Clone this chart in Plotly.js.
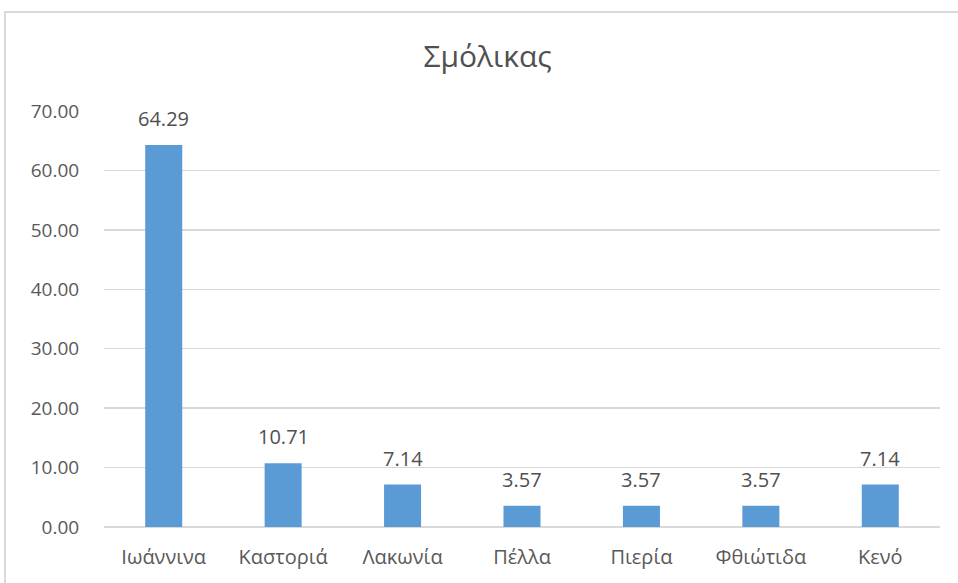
<!DOCTYPE html>
<html>
<head>
<meta charset="utf-8">
<script src="https://cdn.plot.ly/plotly-3.0.1.min.js"></script>
<style>
html,body{margin:0;padding:0;overflow:hidden;background:#fff;}
#chart{width:958px;height:583px;}
#frame{position:absolute;left:4px;top:11px;width:1200px;height:1200px;border:2px solid #d9d9d9;pointer-events:none;}
</style>
</head>
<body>
<div id="chart"></div>
<div id="frame"></div>
<script>
const categories = ["Ιωάννινα","Καστοριά","Λακωνία","Πέλλα","Πιερία","Φθιώτιδα","Κενό"];
const values = [64.29, 10.71, 7.14, 3.57, 3.57, 3.57, 7.14];
const titleText = "Σμόλικας";

const font = "'Open Sans', 'Noto Sans', sans-serif";
const labels = categories.map((c, i) => ({
  x: c, y: values[i], xref: 'x', yref: 'y',
  text: values[i].toFixed(2), showarrow: false,
  yanchor: 'bottom', yshift: 11,
  font: {family: font, size: 20, color: '#505050'}
}));
Plotly.newPlot('chart', [{
  type: 'bar',
  x: categories,
  y: values,
  marker: {color: '#5b9bd5'},
  hoverinfo: 'none'
}], {
  width: 958, height: 583,
  margin: {l: 104, r: 18, t: 111, b: 56},
  paper_bgcolor: '#fff', plot_bgcolor: '#fff',
  bargap: 0.69,
  showlegend: false,
  annotations: labels,
  title: {text: titleText, x: 0.509, xanchor: 'center', y: 0.903, yanchor: 'middle',
          font: {family: font, size: 30, color: '#505050'}},
  xaxis: {
    showgrid: false, zeroline: false, showline: false,
    ticks: 'outside', ticklen: 12, tickcolor: 'rgba(0,0,0,0)',
    tickfont: {family: font, size: 20, color: '#595959'}
  },
  yaxis: {
    range: [0, 70], dtick: 10, tickformat: '.2f',
    showgrid: true, gridcolor: '#d9d9d9', gridwidth: 1.5,
    zeroline: true, zerolinecolor: '#d9d9d9', zerolinewidth: 1.5,
    showline: false,
    ticks: 'outside', ticklen: 20, tickcolor: 'rgba(0,0,0,0)',
    tickfont: {family: font, size: 19, color: '#595959'}
  }
}, {staticPlot: true});
</script>
</body>
</html>
